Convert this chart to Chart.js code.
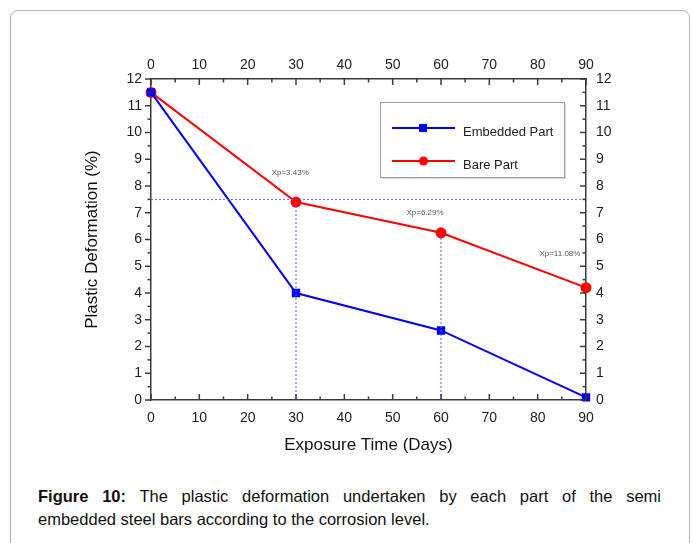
<!DOCTYPE html>
<html lang="en">
<head>
    <meta charset="UTF-8">
    <title>Plastic Deformation</title>
    <script src="https://cdn.jsdelivr.net/npm/chart.js"></script>
    <style>
        body { margin: 0; background: #fff; font-family: "Liberation Sans", Arial, sans-serif; }
        #frame {
            position: absolute; left: 10px; top: 10px; width: 678px; height: 600px;
            border: 1px solid #b4b4b4; border-radius: 8px;
        }
        #chartBox { position: absolute; left: 0; top: 0; width: 694px; height: 470px; }
        #caption {
            position: absolute; left: 38px; top: 485px; width: 623px;
            font-size: 16.5px; line-height: 23px; color: #111;
        }
        #caption .first { text-align: justify; text-align-last: justify; }
    </style>
</head>
<body>
    <div id="frame"></div>
    <div id="chartBox"><canvas id="deformChart"></canvas></div>
    <div id="caption">
        <div class="first"><b>Figure 10:</b> The plastic deformation undertaken by each part of the semi</div>
        <div>embedded steel bars according to the corrosion level.</div>
    </div>

    <script>
        // exposure time (days) and plastic deformation (%)
        const days = [0, 30, 60, 90];
        const embedded = [11.5, 4.0, 2.6, 0.1];
        const bare = [11.5, 7.4, 6.25, 4.2];

        // guide lines
        const guideLevel = 7.5;
        const guideDays = [30, 60];
        const guideTops = [7.5, 6.25];

        // labels above the bare part curve
        const noteText = ['Xp=3.43%', 'Xp=6.29%', 'Xp=11.08%'];
        const noteX = [28.8, 56.7, 84.6];
        const noteY = [8.5, 7.0, 5.45];

        const guideColor = '#5a5aff';
        const axisColor = '#3a3a3a';

        const pts = (xs, ys) => xs.map((x, i) => ({ x: x, y: ys[i] }));

        const datasets = [
            {
                label: 'level', data: [{ x: 0, y: guideLevel }, { x: 90, y: guideLevel }],
                borderColor: guideColor, borderWidth: 1, borderDash: [2, 2], pointRadius: 0
            }
        ];
        guideDays.forEach((d, i) => {
            datasets.push({
                label: 'guide' + i, data: [{ x: d, y: 0 }, { x: d, y: guideTops[i] }],
                borderColor: guideColor, borderWidth: 1, borderDash: [2, 2], pointRadius: 0
            });
        });
        datasets.push({
            label: 'Embedded Part', data: pts(days, embedded),
            borderColor: '#0000ff', backgroundColor: '#0000ff', borderWidth: 2,
            pointStyle: 'rect', pointRadius: 4.5, clip: false
        });
        datasets.push({
            label: 'Bare Part', data: pts(days, bare),
            borderColor: '#ff0000', backgroundColor: '#ff0000', borderWidth: 2,
            pointStyle: 'circle', pointRadius: 4.5, clip: false
        });

        const tickFont = { family: '"Liberation Sans", Arial, sans-serif', size: 14 };
        const titleFont = { family: '"Liberation Sans", Arial, sans-serif', size: 17 };

        function fixSize(w, h) {
            return scale => {
                if (w !== null) scale.width = w;
                if (h !== null) scale.height = h;
            };
        }

        function axis(pos, min, max, step, pad, extra) {
            return Object.assign({
                type: 'linear', position: pos, min: min, max: max,
                grid: { display: false, drawTicks: false },
                border: { display: true, color: axisColor, width: 1.5 },
                ticks: { stepSize: step, color: '#222', font: tickFont, padding: pad }
            }, extra);
        }

        // inward / outward tick marks drawn with the scales
        const tickMarks = {
            id: 'tickMarks',
            afterDraw(chart) {
                const ctx = chart.ctx;
                const a = chart.chartArea;
                ctx.save();
                ctx.strokeStyle = axisColor;
                ctx.lineWidth = 1.5;
                const sets = [
                    { id: 'x', edge: a.bottom, dir: -1, horiz: true },
                    { id: 'x2', edge: a.top, dir: 1, horiz: true },
                    { id: 'y', edge: a.left, dir: -1, horiz: false },
                    { id: 'y2', edge: a.right, dir: -1, horiz: false }
                ];
                sets.forEach(s => {
                    const sc = chart.scales[s.id];
                    const step = s.horiz ? 5 : 0.5;
                    for (let v = sc.min; v <= sc.max + 1e-9; v += step) {
                        const major = Math.abs(v / (step * 2) - Math.round(v / (step * 2))) < 1e-6;
                        const len = major ? 6 : 3.5;
                        const p = sc.getPixelForValue(v);
                        ctx.beginPath();
                        if (s.horiz) {
                            ctx.moveTo(p, s.edge);
                            ctx.lineTo(p, s.edge + s.dir * len);
                        } else {
                            ctx.moveTo(s.edge, p);
                            ctx.lineTo(s.edge + s.dir * len, p);
                        }
                        ctx.stroke();
                    }
                });
                ctx.restore();
            }
        };

        const notesAndLegend = {
            id: 'notesAndLegend',
            afterDraw(chart) {
                const ctx = chart.ctx;
                const xs = chart.scales.x, ys = chart.scales.y;
                ctx.save();
                ctx.font = '8px "Liberation Sans", Arial, sans-serif';
                ctx.fillStyle = '#555';
                ctx.textAlign = 'center';
                ctx.textBaseline = 'middle';
                noteText.forEach((t, i) => {
                    ctx.fillText(t, xs.getPixelForValue(noteX[i]), ys.getPixelForValue(noteY[i]));
                });

                // legend box
                const bx = 380, by = 102, bw = 184, bh = 75;
                ctx.fillStyle = '#d8d8d8';
                ctx.fillRect(bx + 2, by + 2, bw, bh);
                ctx.fillStyle = '#fff';
                ctx.fillRect(bx, by, bw, bh);
                ctx.strokeStyle = '#a0a0a0';
                ctx.lineWidth = 1;
                ctx.strokeRect(bx + 0.5, by + 0.5, bw, bh);

                const entries = chart.data.datasets.filter(d => d.label.indexOf('Part') > 0);
                entries.forEach((d, i) => {
                    const y = by + 26 + i * 33;
                    ctx.strokeStyle = d.borderColor;
                    ctx.lineWidth = 2;
                    ctx.beginPath();
                    ctx.moveTo(bx + 12, y);
                    ctx.lineTo(bx + 75, y);
                    ctx.stroke();
                    ctx.fillStyle = d.backgroundColor;
                    if (d.pointStyle === 'rect') {
                        ctx.fillRect(bx + 39, y - 4, 8, 8);
                    } else {
                        ctx.beginPath();
                        ctx.arc(bx + 43.5, y, 4.5, 0, Math.PI * 2);
                        ctx.fill();
                    }
                    ctx.fillStyle = '#222';
                    ctx.font = '13px "Liberation Sans", Arial, sans-serif';
                    ctx.textAlign = 'left';
                    ctx.fillText(d.label, bx + 83, y + 4);
                });
                ctx.restore();
            }
        };

        new Chart(document.getElementById('deformChart'), {
            type: 'line',
            data: { datasets: datasets },
            options: {
                responsive: true,
                maintainAspectRatio: false,
                animation: false,
                layout: { padding: 0 },
                plugins: { legend: { display: false }, tooltip: { enabled: false } },
                scales: {
                    x: axis('bottom', 0, 90, 10, 10, {
                        afterFit: fixSize(null, 70),
                        title: { display: true, text: 'Exposure Time (Days)', color: '#111', font: titleFont, padding: { bottom: 14 } }
                    }),
                    x2: axis('top', 0, 90, 10, 5, { afterFit: fixSize(null, 79) }),
                    y: axis('left', 0, 12, 1, 9, {
                        afterFit: fixSize(151, null),
                        title: { display: true, text: 'Plastic Deformation (%)', color: '#111', font: titleFont, padding: { top: 82 } }
                    }),
                    y2: axis('right', 0, 12, 1, 10, { afterFit: fixSize(108, null) })
                }
            },
            plugins: [tickMarks, notesAndLegend]
        });
    </script>
</body>
</html>
